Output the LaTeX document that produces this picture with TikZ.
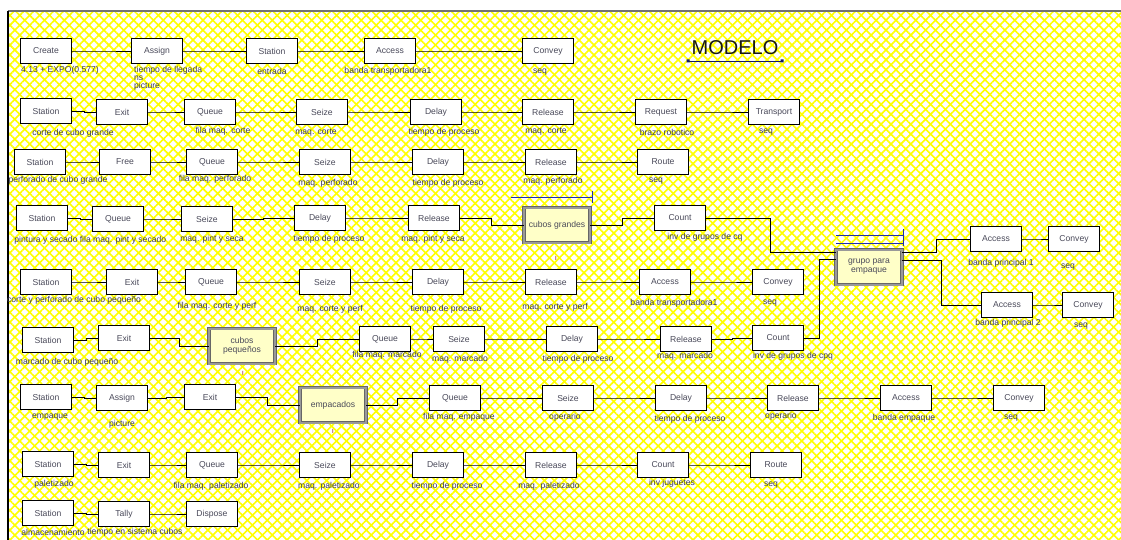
\documentclass[tikz,border=0pt]{standalone}
\usepackage{fontspec}
\setmainfont{Liberation Sans}
\usepackage{tikz}
\usetikzlibrary{positioning, calc, patterns.meta}
\definecolor{hatch}{HTML}{FFFF00}
\definecolor{batchfill}{HTML}{FFFFC8}
\definecolor{boxtext}{HTML}{4A4A5A}
\definecolor{lbltext}{HTML}{3C3C56}
\definecolor{selblue}{HTML}{1F2FA8}

\begin{document}
\begin{tikzpicture}[x=1pt, y=-1pt,
    every node/.style={font=\fontsize{8.6}{9}\selectfont},
    box/.style={rectangle, draw, line width=1.2pt, fill=white, text=boxtext,
      minimum width=51, minimum height=25, inner sep=1pt},
    batch/.style={rectangle, draw=black!60, double=black!40, double distance=2pt,
      line width=0.7pt, fill=batchfill, text=boxtext, align=center,
      minimum width=66, minimum height=35, inner sep=1pt},
    lbl/.style={text=lbltext, inner sep=0pt, font=\fontsize{8.6}{8}\selectfont},
    qmark/.style={text=red!55!black, inner sep=0pt, font=\fontsize{6}{6}\selectfont},
    lnk/.style={line width=0.8pt},
    hvh/.style={to path={-| ($(\tikztostart)!0.5!(\tikztotarget)$) |- (\tikztotarget)}},
    attr/.style={selblue, line width=0.8pt}]

  % background
  \useasboundingbox (0,0) rectangle (1121,540);
  \fill[white] (0,0) rectangle (1121,540);
  \fill[pattern={Lines[angle=45, distance=7pt, line width=1.6pt]}, pattern color=hatch]
    (8,11) rectangle (1121,540);
  \fill[pattern={Lines[angle=-45, distance=7pt, line width=1.6pt]}, pattern color=hatch]
    (8,11) rectangle (1121,540);
  \draw[black!55, line width=1.5pt] (8,11) -- (1121,11);
  \draw[black, line width=1.5pt] (8,11) -- (8,540);

  % title
  \node[font=\fontsize{20}{20}\selectfont, text=black!90] (modelo) at (735,48) {MODELO};
  \draw[selblue!60!black, line width=0.7pt] (688,61) -- (782,61);
  \fill[selblue!60!black] (686.5,59.5) rectangle ++(3,3) (780.5,59.5) rectangle ++(3,3);

  % row 1
  \node[box] (create) at (46,51) {Create};
  \node[lbl] (create-l) at (60,70) {4.13 + EXPO(0.577)};
  \node[box] (assign1) at (157,51) {Assign};
  \node[lbl, align=left, anchor=north west] (assign1-l) at (134,66)
    {tiempo de llegada\\ns\\picture};
  \node[box] (entrada) at (272,51) {Station};
  \node[lbl] (entrada-l) at (272,71) {entrada};
  \node[box] (access1) at (390,51) {Access};
  \node[lbl] (access1-l) at (388,71) {banda transportadora1};
  \node[box] (convey1) at (548,51) {Convey};
  \node[lbl] (convey1-l) at (540,72) {seq};

  % row 2
  \node[box] (st2) at (46,111) {Station};
  \node[lbl] (st2-l) at (73,133) {corte de cubo grande};
  \node[box] (ex2) at (122,112) {Exit};
  \node[box] (qu2) at (210,112) {Queue};
  \node[lbl] (qu2-l) at (223,131) {fila maq. corte};
  \node[box] (se2) at (322,112) {Seize};
  \node[lbl] (se2-l) at (316,133) {maq. corte};
  \node[box] (de2) at (436,112) {Delay};
  \node[lbl] (de2-l) at (444,132) {tiempo de proceso};
  \node[box] (re2) at (548,112) {Release};
  \node[lbl] (re2-l) at (546,132) {maq. corte};
  \node[box] (rq2) at (661,112) {Request};
  \node[lbl] (rq2-l) at (667,132) {brazo robotico};
  \node[box] (tr2) at (774,112) {Transport};
  \node[lbl] (tr2-l) at (766,132) {seq};

  % row 3
  \node[box] (st3) at (40,162) {Station};
  \node[lbl] (st3-l) at (58,180) {perforado de cubo grande};
  \node[box] (fr3) at (125,162) {Free};
  \node[box] (qu3) at (212,162) {Queue};
  \node[lbl] (qu3-l) at (215,179) {fila maq. perforado};
  \node[box] (se3) at (325,162) {Seize};
  \node[lbl] (se3-l) at (328,183) {maq. perforado};
  \node[box] (de3) at (438,162) {Delay};
  \node[lbl] (de3-l) at (448,183) {tiempo de proceso};
  \node[box] (re3) at (551,162) {Release};
  \node[lbl] (re3-l) at (553,181) {maq. perforado};
  \node[box] (ro3) at (663,162) {Route};
  \node[lbl] (ro3-l) at (656,181) {seq};

  % row 4
  \node[box] (st4) at (42,218) {Station};
  \node[lbl] (st4-l) at (46,240) {pintura y secado};
  \node[box] (qu4) at (118,219) {Queue};
  \node[lbl] (qu4-l) at (123,240) {fila maq. pint y secado};
  \node[box] (se4) at (207,219) {Seize};
  \node[lbl] (se4-l) at (212,239) {maq. pint y seca};
  \node[box] (de4) at (320,218) {Delay};
  \node[lbl] (de4-l) at (329,239) {tiempo de proceso};
  \node[box] (re4) at (434,218) {Release};
  \node[lbl] (re4-l) at (433,239) {maq. pint y seca};
  \node[batch] (cg) at (557,225) {cubos grandes};
  \node[qmark] (cg-m) at (556,258) {I};
  \node[box] (co4) at (680,218) {Count};
  \node[lbl] (co4-l) at (705,237) {inv de grupos de cq};
  \draw[attr] (511,197) -- (592,197);
  \draw[attr] (592,191) -- (592,203);

  % row 5
  \node[box] (st5) at (46,282) {Station};
  \node[lbl] (st5-l) at (74,300) {corte y perforado de cubo pequeño};
  \node[box] (ex5) at (132,282) {Exit};
  \node[box] (qu5) at (211,282) {Queue};
  \node[lbl] (qu5-l) at (217,306) {fila maq. corte y perf};
  \node[box] (se5) at (325,282) {Seize};
  \node[lbl] (se5-l) at (330,309) {maq. corte y perf};
  \node[box] (de5) at (438,282) {Delay};
  \node[lbl] (de5-l) at (446,309) {tiempo de proceso};
  \node[box] (re5) at (551,282) {Release};
  \node[lbl] (re5-l) at (555,307) {maq. corte y perf};
  \node[box] (ac5) at (665,282) {Access};
  \node[lbl] (ac5-l) at (674,303) {banda transportadora1};
  \node[box] (cv5) at (778,282) {Convey};
  \node[lbl] (cv5-l) at (770,303) {seq};

  % row 6
  \node[box] (st6) at (48,340) {Station};
  \node[lbl] (st6-l) at (67,362) {marcado de cubo pequeño};
  \node[box] (ex6) at (124,338) {Exit};
  \node[batch] (cp) at (242,346) {cubos\\pequeños};
  \node[qmark] (cp-m) at (243,373) {I};
  \node[box] (qu6) at (385,339) {Queue};
  \node[lbl] (qu6-l) at (387,355) {fila maq. marcado};
  \node[box] (se6) at (459,339) {Seize};
  \node[lbl] (se6-l) at (460,359) {maq. marcado};
  \node[box] (de6) at (572,339) {Delay};
  \node[lbl] (de6-l) at (578,359) {tiempo de proceso};
  \node[box] (re6) at (686,339) {Release};
  \node[lbl] (re6-l) at (685,356) {maq. marcado};
  \node[box] (co6) at (778,338) {Count};
  \node[lbl] (co6-l) at (793,356) {inv de grupos de cpq};

  % row 7
  \node[box] (st7) at (46,397) {Station};
  \node[lbl] (st7-l) at (50,417) {empaque};
  \node[box] (as7) at (122,398) {Assign};
  \node[lbl] (as7-l) at (122,424) {picture};
  \node[box] (ex7) at (210,397) {Exit};
  \node[batch] (em) at (333,405) {empacados};
  \node[qmark] (em-m) at (333,431) {I};
  \node[box] (qu7) at (455,398) {Queue};
  \node[lbl] (qu7-l) at (459,417) {fila maq. empaque};
  \node[box] (se7) at (568,398) {Seize};
  \node[lbl] (se7-l) at (565,417) {operario};
  \node[box] (de7) at (681,398) {Delay};
  \node[lbl] (de7-l) at (690,419) {tiempo de proceso};
  \node[box] (re7) at (793,398) {Release};
  \node[lbl] (re7-l) at (781,416) {operario};
  \node[box] (ac7) at (906,398) {Access};
  \node[lbl] (ac7-l) at (904,418) {banda empaque};
  \node[box] (cv7) at (1019,398) {Convey};
  \node[lbl] (cv7-l) at (1011,418) {seq};

  % row 8
  \node[box] (st8) at (48,464) {Station};
  \node[lbl] (st8-l) at (54,484) {paletizado};
  \node[box] (ex8) at (124,465) {Exit};
  \node[box] (qu8) at (212,465) {Queue};
  \node[lbl] (qu8-l) at (211,486) {fila maq. paletizado};
  \node[box] (se8) at (325,465) {Seize};
  \node[lbl] (se8-l) at (329,486) {maq. paletizado};
  \node[box] (de8) at (438,465) {Delay};
  \node[lbl] (de8-l) at (447,486) {tiempo de proceso};
  \node[box] (re8) at (551,465) {Release};
  \node[lbl] (re8-l) at (549,486) {maq. paletizado};
  \node[box] (co8) at (663,465) {Count};
  \node[lbl] (co8-l) at (672,483) {inv juguetes};
  \node[box] (ro8) at (776,465) {Route};
  \node[lbl] (ro8-l) at (771,485) {seq};

  % row 9
  \node[box] (st9) at (48,513) {Station};
  \node[lbl] (st9-l) at (53,532) {almacenamiento};
  \node[box] (ta9) at (124,514) {Tally};
  \node[lbl] (ta9-l) at (135,532) {tiempo en sistema cubos};
  \node[box] (di9) at (212,514) {Dispose};

  % grouping and main belts
  \node[batch] (gp) at (869,267) {grupo para\\empaque};
  \draw[attr] (836,235) -- (903,235);
  \draw[attr] (836,243) -- (903,243);
  \draw[attr] (903,229) -- (903,246);
  \node[box] (ac1b) at (996,239) {Access};
  \node[lbl] (ac1b-l) at (1001,263) {banda principal 1};
  \node[box] (cv1b) at (1074,239) {Convey};
  \node[lbl] (cv1b-l) at (1068,267) {seq};
  \node[box] (ac2b) at (1007,305) {Access};
  \node[lbl] (ac2b-l) at (1008,323) {banda principal 2};
  \node[box] (cv2b) at (1088,305) {Convey};
  \node[lbl] (cv2b-l) at (1081,326) {seq};

  % connectors
  \draw[lnk] (create.east) to[hvh] (assign1.west) (assign1.east) to[hvh] (entrada.west)
    (entrada.east) to[hvh] (access1.west) (access1.east) to[hvh] (convey1.west);
  \draw[lnk] (st2.east) to[hvh] (ex2.west) (ex2.east) to[hvh] (qu2.west)
    (qu2.east) to[hvh] (se2.west) (se2.east) to[hvh] (de2.west)
    (de2.east) to[hvh] (re2.west) (re2.east) to[hvh] (rq2.west)
    (rq2.east) to[hvh] (tr2.west);
  \draw[lnk] (st3.east) to[hvh] (fr3.west) (fr3.east) to[hvh] (qu3.west)
    (qu3.east) to[hvh] (se3.west) (se3.east) to[hvh] (de3.west)
    (de3.east) to[hvh] (re3.west) (re3.east) to[hvh] (ro3.west);
  \draw[lnk] (st4.east) to[hvh] (qu4.west) (qu4.east) to[hvh] (se4.west)
    (se4.east) to[hvh] (de4.west) (de4.east) to[hvh] (re4.west)
    (re4.east) to[hvh] (cg.west) (cg.east) to[hvh] (co4.west)
    (co4.east) to[hvh] ([yshift=15pt]gp.west);
  \draw[lnk] (st5.east) to[hvh] (ex5.west) (ex5.east) to[hvh] (qu5.west)
    (qu5.east) to[hvh] (se5.west) (se5.east) to[hvh] (de5.west)
    (de5.east) to[hvh] (re5.west) (re5.east) to[hvh] (ac5.west)
    (ac5.east) to[hvh] (cv5.west);
  \draw[lnk] (st6.east) to[hvh] (ex6.west) (ex6.east) to[hvh] (cp.west)
    (cp.east) to[hvh] (qu6.west) (qu6.east) to[hvh] (se6.west)
    (se6.east) to[hvh] (de6.west) (de6.east) to[hvh] (re6.west)
    (re6.east) to[hvh] (co6.west) (co6.east) to[hvh] ([yshift=8pt]gp.west);
  \draw[lnk] (st7.east) to[hvh] (as7.west) (as7.east) to[hvh] (ex7.west)
    (ex7.east) to[hvh] (em.west) (em.east) to[hvh] (qu7.west)
    (qu7.east) to[hvh] (se7.west) (se7.east) to[hvh] (de7.west)
    (de7.east) to[hvh] (re7.west) (re7.east) to[hvh] (ac7.west)
    (ac7.east) to[hvh] (cv7.west);
  \draw[lnk] (st8.east) to[hvh] (ex8.west) (ex8.east) to[hvh] (qu8.west)
    (qu8.east) to[hvh] (se8.west) (se8.east) to[hvh] (de8.west)
    (de8.east) to[hvh] (re8.west) (re8.east) to[hvh] (co8.west)
    (co8.east) to[hvh] (ro8.west);
  \draw[lnk] (st9.east) to[hvh] (ta9.west) (ta9.east) to[hvh] (di9.west);
  \draw[lnk] ([yshift=15pt]gp.east) to[hvh] (ac1b.west) (ac1b.east) to[hvh] (cv1b.west);
  \draw[lnk] ([yshift=7pt]gp.east) to[hvh] (ac2b.west) (ac2b.east) to[hvh] (cv2b.west);
\end{tikzpicture}
\end{document}
